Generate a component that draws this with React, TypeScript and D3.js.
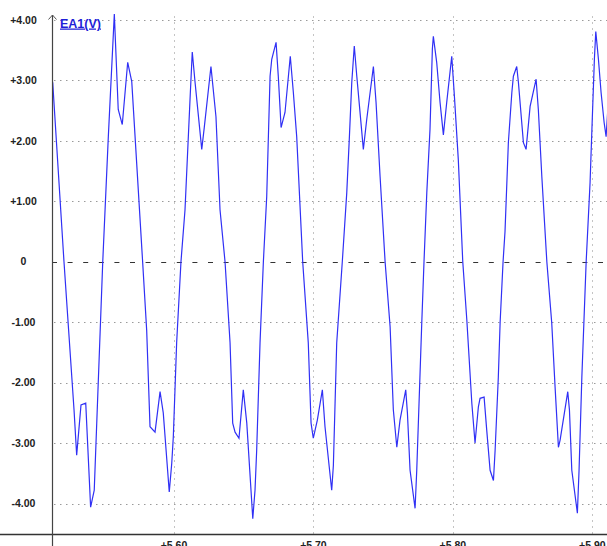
import * as d3 from "d3";

const W = 607;
const H = 546;

const seriesName = "EA1(V)";
const yTicks = [4, 3, 2, 1, 0, -1, -2, -3, -4];
const yTickLabels = ["+4.00", "+3.00", "+2.00", "+1.00", "0", "-1.00", "-2.00", "-3.00", "-4.00"];
const xTicks = [5.6, 5.7, 5.8, 5.9];
const xTickLabels = ["+5.60", "+5.70", "+5.80", "+5.90"];

// time (s) of each vertex
const sampleTimes = [
  5.513, 5.5211, 5.5283, 5.5302, 5.5333, 5.5367, 5.5402, 5.5428, 5.5489, 5.5529,
  5.5572, 5.56, 5.5629, 5.5668, 5.5697, 5.5775, 5.5804, 5.5828, 5.5864, 5.59,
  5.5923, 5.5966, 5.5984, 5.5995, 5.6019, 5.605, 5.6079, 5.6115, 5.6131, 5.6151,
  5.6199, 5.6217, 5.6265, 5.6301, 5.633, 5.6366, 5.6402, 5.6421, 5.6438, 5.6466,
  5.6497, 5.6522, 5.6565, 5.6581, 5.6593, 5.6617, 5.6641, 5.6665, 5.6689, 5.6701,
  5.6732, 5.6748, 5.6768, 5.6796, 5.6834, 5.6856, 5.688, 5.6923, 5.6963, 5.6983,
  5.6999, 5.7028, 5.7064, 5.7083, 5.7131, 5.7143, 5.7167, 5.7207, 5.7239, 5.7258,
  5.7275, 5.7293, 5.7311, 5.7358, 5.7382, 5.743, 5.7449, 5.7478, 5.7514, 5.755,
  5.7573, 5.7598, 5.7621, 5.7662, 5.7674, 5.7693, 5.7729, 5.7741, 5.7777, 5.7793,
  5.7813, 5.7836, 5.7853, 5.786, 5.7884, 5.7908, 5.7932, 5.7956, 5.7992, 5.8011,
  5.8039, 5.8071, 5.81, 5.8136, 5.8159, 5.8183, 5.8195, 5.8224, 5.8243, 5.8267,
  5.8291, 5.8303, 5.8326, 5.8339, 5.836, 5.8374, 5.8398, 5.8423, 5.8434, 5.8458,
  5.847, 5.8506, 5.8525, 5.8554, 5.8597, 5.8613, 5.8638, 5.8674, 5.8709, 5.8733,
  5.8757, 5.8769, 5.8824, 5.8836, 5.8853, 5.8893, 5.8905, 5.8925, 5.8956, 5.8984,
  5.9004, 5.9015, 5.9025, 5.9044, 5.9063, 5.9085, 5.9099, 5.911,
];

// EA1 voltage at each vertex
const sampleVolts = [
  2.97, 0, -2.45, -3.2, -2.37, -2.34, -4.06, -3.78, 0, 2.07,
  4.1, 2.52, 2.27, 3.3, 2.98, 0, -1.13, -2.73, -2.82, -2.15,
  -2.5, -3.81, -3.33, -2.9, -1.34, 0, 0.86, 2.69, 3.47, 2.97,
  1.86, 2.22, 3.23, 2.4, 0.86, 0, -1.34, -2.67, -2.82, -2.92,
  -2.12, -2.67, -4.25, -3.78, -3.12, -1.34, 0, 1.08, 3.07, 3.35,
  3.63, 3.07, 2.22, 2.47, 3.4, 2.8, 2.07, 0, -1.34, -2.67,
  -2.92, -2.62, -2.12, -2.73, -3.78, -3.37, -1.34, 0, 1.14, 2.07,
  2.97, 3.57, 3.07, 1.86, 2.35, 3.23, 2.64, 1.41, 0, -1.08,
  -2.45, -3.07, -2.62, -2.12, -2.5, -3.45, -4.08, -3.45, -1.01, 0,
  1.14, 2.19, 3.52, 3.73, 3.3, 2.64, 2.1, 2.64, 3.4, 2.74,
  1.69, 0, -0.96, -2.34, -3.0, -2.4, -2.26, -2.24, -2.79, -3.45,
  -3.62, -3.12, -1.91, -1.0, 0, 0.5, 1.97, 2.8, 3.07, 3.23,
  2.97, 1.97, 1.86, 2.57, 3.02, 2.52, 1.41, 0, -1.01, -2.07,
  -3.07, -2.95, -2.15, -2.45, -3.45, -4.16, -3.45, -1.91, 0, 1.31,
  2.64, 3.35, 3.81, 3.35, 2.8, 2.3, 2.07, 2.47,
];

const plotLeft = 52;
const plotTop = 15;
const axisY = 534.5;
const labelFont = "'Liberation Sans', Arial, sans-serif";

export default function App() {
  const x = d3.scaleLinear().domain([5.6, 5.9]).range([174, 592.3]);
  const y = d3.scaleLinear().domain([-4, 4]).range([503.5, 20]);

  const line = d3
    .line<number>()
    .x((_, i) => x(sampleTimes[i]))
    .y((d) => y(d));

  return (
    <svg
      width={W}
      height={H}
      style={{ position: "absolute", left: 0, top: 0, background: "#fff" }}
    >
      <defs>
        <clipPath id="plot">
          <rect x={plotLeft} y={0} width={W - plotLeft} height={axisY} />
        </clipPath>
      </defs>

      {/* horizontal grid */}
      {yTicks
        .filter((t) => t !== 0)
        .map((t) => (
          <line
            key={"h" + t}
            x1={plotLeft + 2}
            x2={W}
            y1={Math.round(y(t)) + 0.5}
            y2={Math.round(y(t)) + 0.5}
            stroke="#9a9a9a"
            strokeDasharray="1.5,4.5"
          />
        ))}
      {/* vertical grid */}
      {xTicks.map((t) => (
        <line
          key={"v" + t}
          x1={Math.round(x(t)) + 0.5}
          x2={Math.round(x(t)) + 0.5}
          y1={y(4) - 4}
          y2={axisY}
          stroke="#c4c4c4"
          strokeDasharray="2,4"
        />
      ))}
      {/* zero line */}
      <line
        x1={plotLeft}
        x2={W}
        y1={Math.round(y(0)) + 0.5}
        y2={Math.round(y(0)) + 0.5}
        stroke="#333"
        strokeDasharray="5,10.6"
      />

      {/* trace */}
      <path
        d={line(sampleVolts) || ""}
        fill="none"
        stroke="#3030f5"
        strokeWidth={1.2}
        clipPath="url(#plot)"
      />

      {/* axes */}
      <line x1={0} x2={W} y1={axisY} y2={axisY} stroke="#333" strokeWidth={1.5} />
      <line
        x1={plotLeft + 0.5}
        x2={plotLeft + 0.5}
        y1={plotTop}
        y2={H}
        stroke="#444"
        strokeWidth={1.2}
      />
      <path
        d={`M${plotLeft - 3.5},${plotTop + 4.5}L${plotLeft + 0.5},${plotTop}L${plotLeft + 4.5},${plotTop + 4.5}`}
        fill="none"
        stroke="#555"
      />

      {/* y tick labels */}
      {yTicks.map((t, i) => (
        <text
          key={"yl" + t}
          x={23.5}
          y={y(t)}
          dy="0.35em"
          textAnchor="middle"
          fontFamily={labelFont}
          fontWeight="bold"
          fontSize={10.5}
          fill="#222"
        >
          {yTickLabels[i]}
        </text>
      ))}

      {/* x tick labels */}
      {xTicks.map((t, i) => (
        <text
          key={"xl" + t}
          x={x(t)}
          y={549}
          textAnchor="middle"
          fontFamily={labelFont}
          fontWeight="bold"
          fontSize={10.5}
          fill="#222"
        >
          {xTickLabels[i]}
        </text>
      ))}

      {/* series label */}
      <text
        x={60}
        y={27.5}
        fontFamily={labelFont}
        fontWeight="bold"
        fontSize={12.5}
        fill="#1f1fd8"
        textDecoration="underline"
      >
        {seriesName}
      </text>
    </svg>
  );
}
